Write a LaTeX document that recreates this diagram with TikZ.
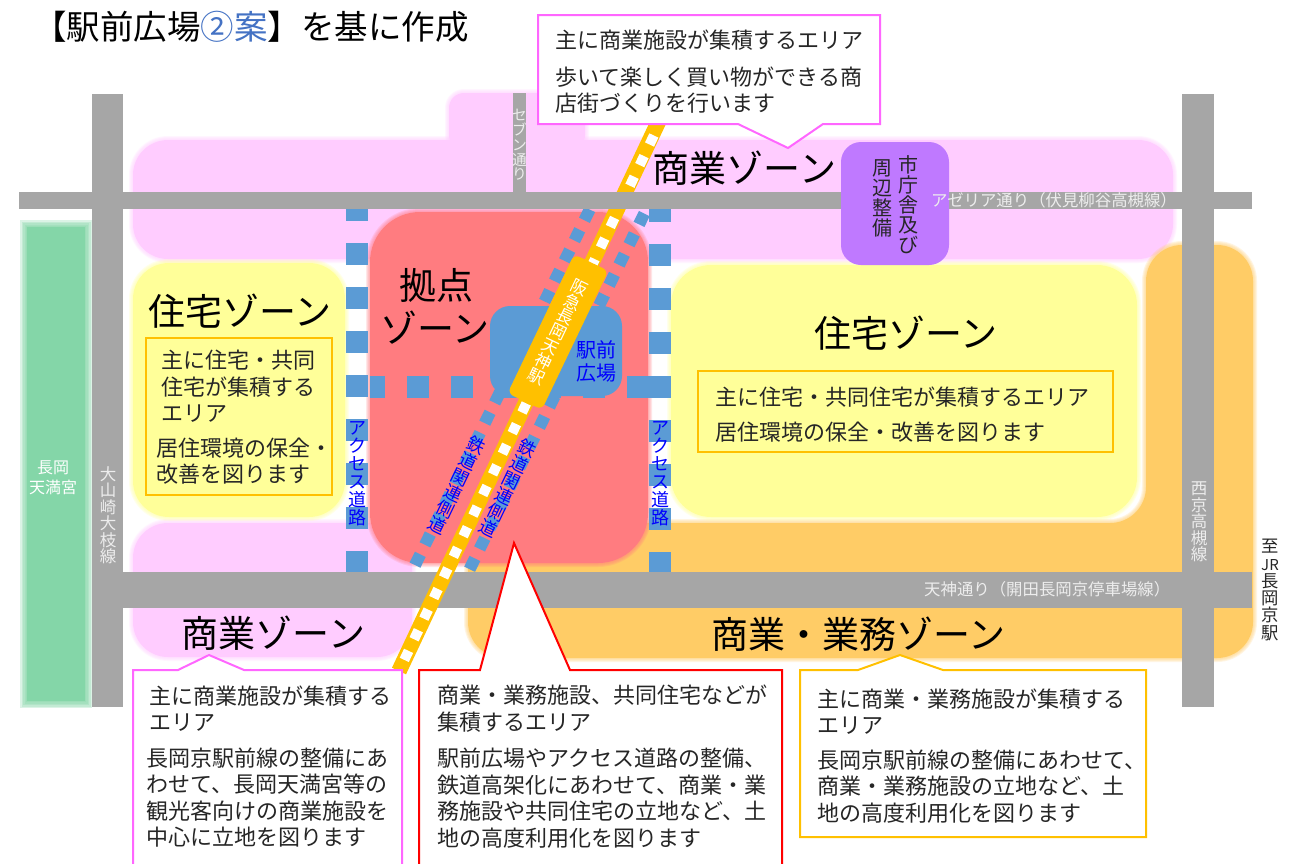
\documentclass[tikz,border=0pt]{standalone}
\usepackage{fontspec}
\setmainfont{Noto Sans CJK JP}
\definecolor{pinkz}{HTML}{FFCCFF}
\definecolor{redz}{HTML}{FF7C80}
\definecolor{yellowz}{HTML}{FFFF99}
\definecolor{orangez}{HTML}{FFCC66}
\definecolor{greenz}{HTML}{84D6A8}
\definecolor{bluez}{HTML}{5B9BD5}
\definecolor{purplez}{HTML}{BF79FF}
\definecolor{roadc}{HTML}{A6A6A6}
\definecolor{railc}{HTML}{FFC000}
\definecolor{pinkline}{HTML}{FF66FF}
\definecolor{roadtext}{HTML}{EDEDED}
\definecolor{bodytext}{HTML}{262626}
\definecolor{titleblue}{HTML}{4472C4}
\newcommand\fs[1]{\fontsize{#1}{#1}\selectfont\lineskiplimit=-100pt\relax}
\newcommand\fbody{\fontsize{22}{26.5}\selectfont\lineskiplimit=-100pt\relax}
\newcommand\softzone[3]{%
  \foreach \w in {8,6,4,2}{\draw[#1,line width=\w pt,opacity=.18,rounded corners=#2pt] #3;}
  \fill[#1,rounded corners=#2pt] #3;}
\tikzset{
  para/.style={anchor=west,align=left,inner sep=0pt,text=bodytext,font=\fbody},
  zonelabel/.style={inner sep=0pt,text=black,font=\fs{37},align=center},
  roadlabel/.style={anchor=west,inner sep=0pt,text=roadtext,font=\fs{16.4}},
  roadstack/.style={inner sep=0pt,text=roadtext,align=center,font=\fs{16.5}},
  bluestack/.style={inner sep=0pt,text=blue,align=center,font=\fs{18}},
  bluecol/.style={bluez,line width=22pt,dash pattern=on 22pt off 22pt},
  sidewalk/.style={bluez,line width=12pt,dash pattern=on 12pt off 10.6pt},
  callout/.style={fill=white,line width=2pt,line join=miter},
  infobox/.style={railc,line width=2pt}
}
\begin{document}
\begin{tikzpicture}[x=1pt,y=-1pt]
\useasboundingbox (0,0) rectangle (1289,863);
\clip (0,0) rectangle (1289,863);
\fill[white] (0,0) rectangle (1289,863);
% zones
\softzone{pinkz}{15}{(449,150) -- (449,93) -- (585,93) -- (585,150) -- cycle}
\softzone{pinkz}{35}{(133,140) rectangle (1173,259)}
\softzone{pinkz}{35}{(133,523) rectangle (412,657)}
\softzone{orangez}{36}{(468,523) -- (1146,523) -- (1146,245) -- (1253,245) -- (1253,658) -- (468,658) -- cycle}
\fill[orangez] (468,523) rectangle (560,600);
\softzone{yellowz}{36}{(133,263) rectangle (345,517)}
\softzone{yellowz}{40}{(671,265) rectangle (1137,517)}
\foreach \w in {14,11,8,5,2}{\draw[greenz,line width=\w pt,opacity=.28] (27,227) rectangle (85,701);}
\fill[greenz] (27,227) rectangle (85,701);
\softzone{redz}{50}{(370,212) rectangle (648,563)}
\fill[bluez,rounded corners=20pt] (490,306) rectangle (622,396);
% dotted access roads
\draw[bluecol] (356.5,199) -- (356.5,573);
\draw[bluecol] (660,200) -- (660,574);
\draw[bluecol,dash phase=7pt] (370,386.5) -- (649,386.5);
% roads
\fill[roadc] (92,94) rectangle (123,707);
\fill[roadc] (1182,94) rectangle (1214,707);
\fill[roadc] (513,93) rectangle (526,192);
\fill[roadc] (92,572) rectangle (1252,608);
% side walks and railway
\draw[sidewalk] (589.7,209.5) -- (413.1,569);
\draw[sidewalk] (644.3,213.6) -- (467.7,573.1);
\draw[railc,line width=15.5pt] (664,110) -- (399,671);
\draw[white,line width=10pt,dash pattern=on 10pt off 12.83pt] (653.84,135.48) -- (399,671);
% top road
\fill[roadc] (19,192) rectangle (1252,209);
% city hall
\fill[purplez,rounded corners=20pt] (841,142) rectangle (949,265);
\node[draw=none,fill=railc,rotate=-25.6,minimum width=38pt,minimum height=154pt,rounded corners=6pt,inner sep=0pt,text=white,align=center,font=\fs{16.5}] (station) at (558,332) {阪\\急\\長\\岡\\天\\神\\駅};
% callouts
\draw[pinkline,callout] (538,15) -- (880,15) -- (880,124) -- (823,124) -- (788,148) -- (738,124) -- (538,124) -- cycle;
\draw[pinkline,callout] (133,880) -- (133,670) -- (178,670) -- (209,655) -- (244,670) -- (402,670) -- (402,880);
\draw[red,callout] (419,880) -- (419,670) -- (480,670) -- (514,543) -- (570,670) -- (782,670) -- (782,880);
\draw[railc,callout] (800,670) -- (858,670) -- (900,655) -- (943,670) -- (1146,670) -- (1146,837) -- (800,837) -- cycle;
\draw[infobox] (146,338) rectangle (332,495);
\draw[infobox] (698,371) rectangle (1113,452);
% title
\node[anchor=west,inner sep=0pt,text=black,font=\fs{33.5}] (title) at (33,27) {【駅前広場\textcolor{titleblue}{②案}】を基に作成};
% zone labels
\node[zonelabel] (z1) at (744.5,168) {商業ゾーン};
\node[zonelabel] (z2) at (240,311) {住宅ゾーン};
\node[zonelabel] (z3) at (906,333) {住宅ゾーン};
\node[zonelabel] (z4) at (436,285) {拠点};
\node[zonelabel] (z5) at (435,328) {ゾーン};
\node[zonelabel] (z6) at (273.5,633) {商業ゾーン};
\node[zonelabel] (z7) at (858.5,634) {商業・業務ゾーン};
% road labels
\node[roadlabel] (r1) at (931,200) {アゼリア通り（伏見柳谷高槻線）};
\node[roadlabel] (r2) at (924,589) {天神通り（開田長岡京停車場線）};
\node[roadstack] (r3) at (108,515) {大\\山\\崎\\大\\枝\\線};
\node[roadstack] (r4) at (1199,522) {西\\京\\高\\槻\\線};
\node[roadstack,font=\fs{14.7}] (r5) at (519.5,145) {セ\\ブ\\ン\\通\\り};
\node[inner sep=0pt,align=center,text=bodytext,font=\fs{17.3}] (dest) at (1270,590) {至\\{\fontsize{15}{17.3}\selectfont JR}\\長\\岡\\京\\駅};
\node[inner sep=0pt,align=center,text=white,font=\fontsize{16}{20}\selectfont] (shrine) at (53,478) {長岡\\天満宮};
% blue labels
\node[inner sep=0pt,align=center,text=blue,font=\fontsize{20}{23}\selectfont] (plaza) at (596,361.5) {駅前\\広場};
\node[bluestack] (acc1) at (357,474) {ア\\ク\\セ\\ス\\道\\路};
\node[bluestack] (acc2) at (660,474) {ア\\ク\\セ\\ス\\道\\路};
\node[bluestack,rotate=-25.6,font=\fs{17.7}] (side1) at (457,485) {鉄\\道\\関\\連\\側\\道};
\node[bluestack,rotate=-25.6,font=\fs{17.7}] (side2) at (508,488) {鉄\\道\\関\\連\\側\\道};
% city hall text
\node[inner sep=0pt,align=center,text=bodytext,font=\fs{20}] (hall1) at (908,205) {市\\庁\\舎\\及\\び};
\node[inner sep=0pt,align=center,text=bodytext,font=\fs{20}] (hall2) at (882,198) {周\\辺\\整\\備};
% top callout text
\node[para] (t1) at (555,40) {主に商業施設が集積するエリア};
\node[para] (t2) at (555,90) {歩いて楽しく買い物ができる商\\店街づくりを行います};
% left yellow
\node[para] (y1) at (161,386.5) {主に住宅・共同\\住宅が集積する\\エリア};
\node[para] (y2) at (156,461) {居住環境の保全・\\改善を図ります};
% right yellow
\node[para] (y3) at (715,397) {主に住宅・共同住宅が集積するエリア};
\node[para] (y4) at (715,432) {居住環境の保全・改善を図ります};
% left callout
\node[para] (l1) at (149,708.5) {主に商業施設が集積する\\エリア};
\node[para] (l2) at (146,797.5) {長岡京駅前線の整備にあ\\わせて、長岡天満宮等の\\観光客向けの商業施設を\\中心に立地を図ります};
% red callout
\node[para] (c1) at (437,708.5) {商業・業務施設、共同住宅などが\\集積するエリア};
\node[para] (c2) at (437,798) {駅前広場やアクセス道路の整備、\\鉄道高架化にあわせて、商業・業\\務施設や共同住宅の立地など、土\\地の高度利用化を図ります};
% orange callout
\node[para] (o1) at (817,711.5) {主に商業・業務施設が集積する\\エリア};
\node[para] (o2) at (817,786.5) {長岡京駅前線の整備にあわせて、\\商業・業務施設の立地など、土\\地の高度利用化を図ります};
\end{tikzpicture}
\end{document}
